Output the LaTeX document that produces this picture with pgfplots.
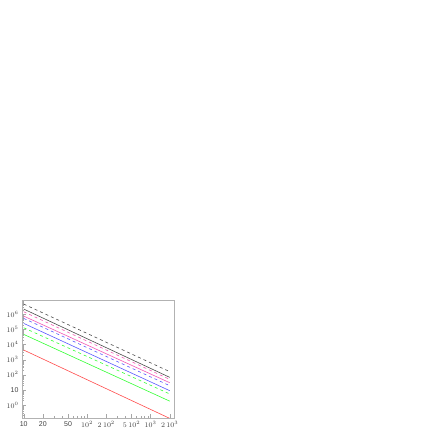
\documentclass[border=0pt]{standalone}
\usepackage{fontspec}
\setmainfont{Liberation Sans}
\usepackage{pgfplots}
\pgfplotsset{compat=1.18}
\begin{document}
\begin{tikzpicture}[x=1pt,y=1pt]
\useasboundingbox (0,0) rectangle (436,436);
\begin{axis}[
  at={(22pt,18pt)}, anchor=south west,
  scale only axis, width=152pt, height=118pt,
  xmode=log, ymode=log,
  xmin=9.4, xmax=2333, ymin=0.138, ymax=9.1e6,
  axis line style={gray!60, line width=0.5pt},
  every tick/.style={gray!70, line width=0.4pt},
  major tick length=4pt, minor tick length=2pt,
  tick align=inside,
  xtick={10,20,50,100,200,500,1000,2000},
  xticklabels={10,20,50,$10^2$,$2\,10^2$,$5\,10^2$,$10^3$,$2\,10^3$},
  minor xtick={30,40,60,70,80,90,300,400,600,700,800,900},
  ytick={1,10,100,1000,10000,100000,1000000},
  yticklabels={$10^0$,10,$10^2$,$10^3$,$10^4$,$10^5$,$10^6$},
  minor ytick={0.2,0.3,0.4,0.5,0.6,0.7,0.8,0.9,2,3,4,5,6,7,8,9,20,30,40,50,60,70,80,90,200,300,400,500,600,700,800,900,2000,3000,4000,5000,6000,7000,8000,9000,20000,30000,40000,50000,60000,70000,80000,90000,200000,300000,400000,500000,600000,700000,800000,900000,2000000,3000000,4000000,5000000,6000000,7000000,8000000,9000000},
  tick label style={font=\fontsize{7}{8}\selectfont, text=black!75},
  /pgf/number format/assume math mode=true,
  xtick pos=bottom, ytick pos=left,
  clip=true,
]
\addplot[black!70, dashed, line width=0.6pt] coordinates {(10,4.9e6) (2000,162)};
\addplot[black!70, line width=0.6pt] coordinates {(10,2.29e6) (2000,68)};
\addplot[magenta!65, dashed, line width=0.6pt] coordinates {(10,1.51e6) (2000,50)};
\addplot[magenta!65, line width=0.6pt] coordinates {(10,7.8e5) (2000,30)};
\addplot[blue!65, dashed, line width=0.6pt] coordinates {(10,5.5e5) (2000,19)};
\addplot[blue!65, line width=0.6pt] coordinates {(10,2.57e5) (2000,8.9)};
\addplot[green!80, dashed, line width=0.6pt] coordinates {(10,1.32e5) (2000,5.4)};
\addplot[green!80, line width=0.6pt] coordinates {(10,4.8e4) (2000,1.8)};
\addplot[red!70, line width=0.6pt] coordinates {(10,4.4e3) (2000,0.13)};
\end{axis}
\end{tikzpicture}
\end{document}
